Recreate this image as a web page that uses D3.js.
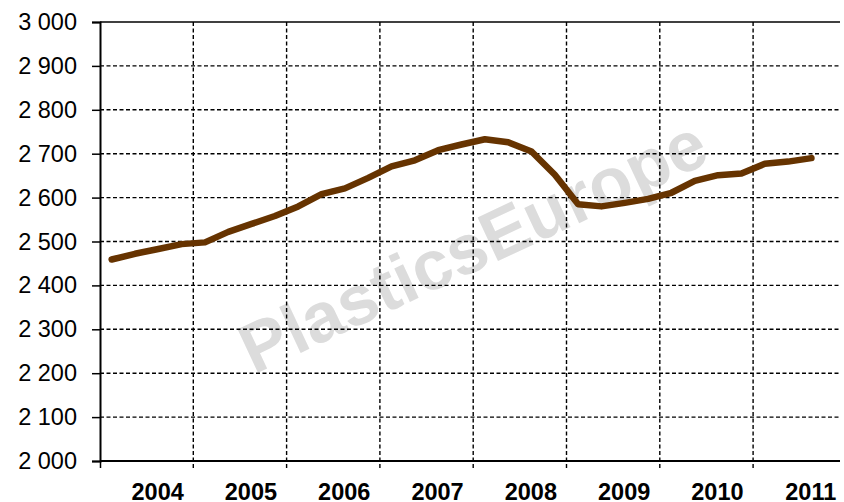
<!DOCTYPE html>
<html>
<head>
<meta charset="utf-8">
<script src="https://cdn.jsdelivr.net/npm/d3@7"></script>
<style>
  html, body { margin: 0; padding: 0; background: #fff; }
  svg { display: block; font-family: "Liberation Sans", Arial, sans-serif; }
</style>
</head>
<body>
<div id="chart"></div>
<script>
// Data (quarterly)
const years = ["2004", "2005", "2006", "2007", "2008", "2009", "2010", "2011"];
const quarters = ["Q1", "Q2", "Q3", "Q4"];
const values = [
  2459, 2472, 2483, 2494,
  2498, 2522, 2540, 2558,
  2580, 2608, 2621, 2645,
  2671, 2685, 2708, 2721,
  2733, 2726, 2705, 2652,
  2585, 2580, 2588, 2597,
  2611, 2638, 2651, 2655,
  2677, 2682, 2690
];
const yTicks = [2000, 2100, 2200, 2300, 2400, 2500, 2600, 2700, 2800, 2900, 3000];
const watermark = "PlasticsEurope";

// table built from the arrays
const data = values.map((v, i) => ({
  year: +years[Math.floor(i / 4)],
  q: i % 4,
  label: years[Math.floor(i / 4)] + " " + quarters[i % 4],
  value: v
}));

const width = 844, height = 502;
const margin = {top: 22, right: 4, bottom: 41, left: 100};

const x = d3.scaleLinear([+years[0], +years[years.length - 1] + 1], [margin.left, margin.left + 93.3 * years.length]);
const y = d3.scaleLinear([2000, 3000], [height - margin.bottom, margin.top]);
const plotRight = width - margin.right;

const fmt = d3.formatLocale({decimal: ",", thousands: " ", grouping: [3], currency: ["", ""]}).format(",d");

const svg = d3.select("#chart").append("svg")
  .attr("width", width)
  .attr("height", height)
  .attr("viewBox", [0, 0, width, height]);

// watermark
svg.append("text")
  .attr("transform", `translate(${x(2008) + 2},${y(2478)}) rotate(-25)`)
  .attr("text-anchor", "middle")
  .attr("dominant-baseline", "middle")
  .attr("font-size", 70)
  .attr("font-weight", "bold")
  .attr("fill", "#dcdcdc")
  .text(watermark);

// horizontal grid
svg.append("g")
  .selectAll("line")
  .data(yTicks.slice(1, -1))
  .join("line")
  .attr("x1", margin.left)
  .attr("x2", plotRight)
  .attr("y1", d => y(d))
  .attr("y2", d => y(d))
  .attr("stroke", "#000")
  .attr("stroke-width", 1.4)
  .attr("stroke-dasharray", "4,2.5");

// vertical grid at year boundaries
const bounds = years.slice(1).map(d => +d);
svg.append("g")
  .selectAll("line")
  .data(bounds)
  .join("line")
  .attr("x1", d => x(d))
  .attr("x2", d => x(d))
  .attr("y1", y(3000))
  .attr("y2", y(2000) + 7)
  .attr("stroke", "#000")
  .attr("stroke-width", 1.4)
  .attr("stroke-dasharray", "4,2.5");

// top border
svg.append("line")
  .attr("x1", margin.left).attr("x2", plotRight)
  .attr("y1", y(3000)).attr("y2", y(3000))
  .attr("stroke", "#000").attr("stroke-width", 1.5);

// y axis
svg.append("g")
  .attr("transform", `translate(${margin.left},0)`)
  .call(d3.axisLeft(y).tickValues(yTicks).tickFormat(fmt).tickSize(8).tickPadding(15))
  .call(g => g.select(".domain").attr("stroke-width", 2))
  .call(g => g.selectAll(".tick line").attr("stroke-width", 1.5))
  .call(g => g.selectAll(".tick text")
    .attr("font-size", 23.5)
    .attr("font-family", "Liberation Sans, Arial, sans-serif")
    .attr("fill", "#000"));

// x axis
svg.append("g")
  .attr("transform", `translate(0,${y(2000)})`)
  .call(d3.axisBottom(x).tickValues([+years[0]]).tickFormat("").tickSizeOuter(0).tickSize(7))
  .call(g => g.select(".domain").attr("d", `M${margin.left},0H${plotRight}`).attr("stroke-width", 2))
  .call(g => g.selectAll(".tick line").attr("stroke-width", 1.5));

svg.append("g")
  .selectAll("text")
  .data(years)
  .join("text")
  .attr("x", d => x(+d + 0.5) + 11)
  .attr("y", height - 2)
  .attr("text-anchor", "middle")
  .attr("font-size", 23.5)
  .attr("font-weight", "bold")
  .attr("fill", "#000")
  .text(d => d);

// line
const line = d3.line()
  .x(d => x(d.year + (d.q + 0.5) / 4))
  .y(d => y(d.value));

svg.append("path")
  .datum(data)
  .attr("d", line)
  .attr("fill", "none")
  .attr("stroke", "#663300")
  .attr("stroke-width", 6.5)
  .attr("stroke-linejoin", "round")
  .attr("stroke-linecap", "round");
</script>
</body>
</html>
